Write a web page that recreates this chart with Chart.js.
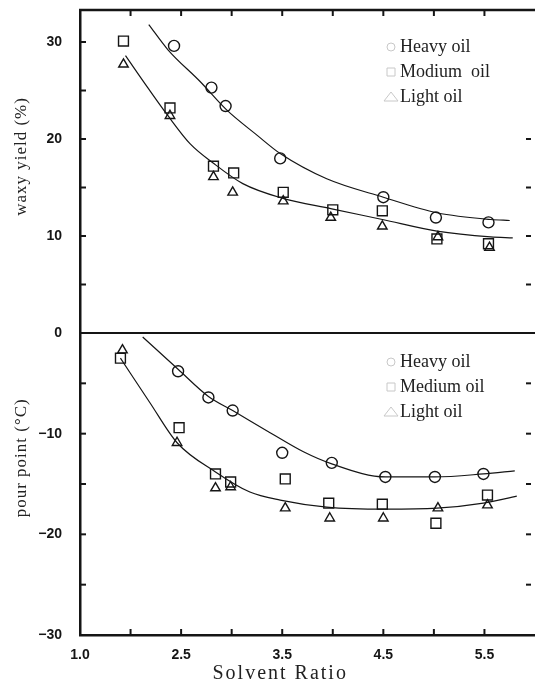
<!DOCTYPE html>
<html>
<head>
<meta charset="utf-8">
<title>Solvent ratio: waxy yield and pour point</title>
<script src="https://cdn.jsdelivr.net/npm/chart.js@4.4.1/dist/chart.umd.min.js"></script>
<style>
  html, body { margin: 0; padding: 0; background: #fff; }
  canvas { display: block; }
</style>
</head>
<body>
<canvas id="solventChart" width="535" height="681"></canvas>
<script>
// ---- upper panel: waxy yield (%) ----
const heavyYieldX  = [2.43, 2.80, 2.94, 3.48, 4.50, 5.02, 5.54];
const heavyYield   = [29.6, 25.3, 23.4, 18.0, 14.0, 11.9, 11.4];
const mediumYieldX = [1.93, 2.39, 2.82, 3.02, 3.51, 4.00, 4.49, 5.03, 5.54];
const mediumYield  = [30.1, 23.2, 17.2, 16.5, 14.5, 12.7, 12.6, 9.7, 9.2];
const lightYieldX  = [1.93, 2.39, 2.82, 3.01, 3.51, 3.98, 4.49, 5.04, 5.55];
const lightYield   = [27.7, 22.4, 16.1, 14.5, 13.6, 11.9, 11.0, 9.9, 8.8];
// fitted curves as drawn in the figure
const heavyYieldFitX = [2.18, 2.37, 2.69, 2.95, 3.25, 3.48, 3.94, 4.50, 5.03, 5.56, 5.75];
const heavyYieldFit  = [31.8, 29.2, 25.9, 23.0, 20.4, 18.5, 15.9, 14.0, 12.4, 11.7, 11.6];
const lightYieldFitX = [1.95, 2.17, 2.37, 2.59, 2.82, 3.11, 3.50, 3.99, 4.49, 5.03, 5.56, 5.78];
const lightYieldFit  = [28.6, 25.3, 22.4, 19.5, 17.5, 15.4, 13.9, 12.8, 11.7, 10.5, 9.9, 9.8];

// ---- lower panel: pour point (°C) ----
const heavyPourX  = [2.47, 2.77, 3.01, 3.50, 3.99, 4.52, 5.01, 5.49];
const heavyPour   = [-3.8, -6.4, -7.7, -11.9, -12.9, -14.3, -14.3, -14.0];
const mediumPourX = [1.90, 2.48, 2.84, 2.99, 3.53, 3.96, 4.49, 5.02, 5.53];
const mediumPour  = [-2.5, -9.4, -14.0, -14.8, -14.5, -16.9, -17.0, -18.9, -16.1];
const lightPourX  = [1.92, 2.46, 2.84, 2.99, 3.53, 3.97, 4.50, 5.04, 5.53];
const lightPour   = [-1.7, -10.9, -15.4, -15.3, -17.4, -18.4, -18.4, -17.4, -17.1];
const heavyPourFitX = [2.12, 2.47, 2.77, 3.01, 3.38, 3.71, 3.99, 4.52, 5.01, 5.49, 5.80];
const heavyPourFit  = [-0.4, -3.6, -6.3, -7.7, -9.9, -11.8, -13.0, -14.3, -14.3, -14.0, -13.7];
const lightPourFitX = [1.90, 2.19, 2.46, 2.84, 3.18, 3.48, 3.94, 4.52, 5.03, 5.49, 5.82];
const lightPourFit  = [-2.5, -6.9, -10.9, -13.8, -15.8, -16.6, -17.3, -17.5, -17.4, -16.9, -16.2];

// ---- axes ----
const xTickValues = [1.5, 2.5, 3.5, 4.5, 5.5];
const xTickLabels = ['1.0', '2.5', '3.5', '4.5', '5.5'];   // printed as in the original
const xMinorTicks = [2.0, 2.5, 3.0, 3.5, 4.0, 4.5, 5.0, 5.5];
const yieldTickValues = [10, 20, 30];
const yieldMinorTicks = [5, 10, 15, 20, 25, 30];
const yieldRightTicks = [5, 10, 15, 20];
const pourTickValues = [-30, -20, -10, 0];
const pourTickLabels = ['\u221230', '\u221220', '\u221210', '0'];
const pourMinorTicks = [-25, -20, -15, -10, -5];
const pourRightTicks = [-25, -20, -15, -10, -5];

const yieldLegend = ['Heavy oil', 'Modium  oil', 'Light oil'];
const pourLegend  = ['Heavy oil', 'Medium oil', 'Light oil'];
const markerStyles = ['circle', 'rect', 'triangle'];

const ink = '#151515';
const toPoints = (xs, ys) => xs.map((x, i) => ({ x, y: ys[i] }));

function curve(label, xs, ys, axis) {
  return {
    label, data: toPoints(xs, ys), yAxisID: axis,
    showLine: true, pointRadius: 0, borderColor: ink, borderWidth: 1.2,
    cubicInterpolationMode: 'monotone', fill: false
  };
}
function markers(label, xs, ys, axis, style, r) {
  return {
    label, data: toPoints(xs, ys), yAxisID: axis, showLine: false,
    pointStyle: style, pointRadius: r, pointBorderWidth: 1.4,
    pointBorderColor: ink, pointBackgroundColor: 'rgba(0,0,0,0)'
  };
}

// no extra room for edge labels: the frame fills the picture
function noEdgePadding(scale) {
  scale.paddingTop = 0; scale.paddingBottom = 0;
  scale.paddingLeft = 0; scale.paddingRight = 0;
}

// frame, inward tick marks, legends and axis titles
const panelDecor = {
  id: 'panelDecor',
  afterDraw(chart) {
    const { ctx, chartArea: area, scales } = chart;
    const xs = scales.x, top = scales.yTop, bot = scales.yBot;
    const seg = (x1, y1, x2, y2) => { ctx.beginPath(); ctx.moveTo(x1, y1); ctx.lineTo(x2, y2); ctx.stroke(); };
    ctx.save();
    ctx.strokeStyle = ink;
    ctx.lineWidth = 2.5;
    seg(area.left - 1, area.top, area.right, area.top);
    ctx.lineWidth = 2;
    seg(area.left, top.bottom, area.right, top.bottom);

    // ticks point into the plot
    xMinorTicks.forEach(v => {
      const px = xs.getPixelForValue(v);
      seg(px, area.bottom, px, area.bottom - 6);
      seg(px, area.top, px, area.top + 6);
    });
    yieldMinorTicks.forEach(v => { const py = top.getPixelForValue(v); seg(area.left, py, area.left + 6, py); });
    pourMinorTicks.forEach(v => { const py = bot.getPixelForValue(v); seg(area.left, py, area.left + 6, py); });
    yieldRightTicks.forEach(v => { const py = top.getPixelForValue(v); seg(area.right - 9, py, area.right - 4, py); });
    pourRightTicks.forEach(v => { const py = bot.getPixelForValue(v); seg(area.right - 9, py, area.right - 4, py); });

    // legends inside each panel (the symbols are faint in the scan)
    ctx.font = '18px "Liberation Serif", serif';
    ctx.fillStyle = '#222';
    ctx.textBaseline = 'middle';
    ctx.textAlign = 'left';
    const drawLegend = (labels, y0) => labels.forEach((txt, i) => {
      const cy = y0 + i * 25;
      ctx.save();
      ctx.strokeStyle = '#c8c8c8';
      ctx.lineWidth = 1;
      ctx.beginPath();
      if (markerStyles[i] === 'circle') ctx.arc(391, cy, 4, 0, Math.PI * 2);
      else if (markerStyles[i] === 'rect') ctx.rect(387, cy - 4, 8, 8);
      else { ctx.moveTo(384, cy + 4); ctx.lineTo(391, cy - 5); ctx.lineTo(398, cy + 4); ctx.closePath(); }
      ctx.stroke();
      ctx.restore();
      ctx.fillText(txt, 400, cy);
    });
    drawLegend(yieldLegend, top.top + 37);
    drawLegend(pourLegend, bot.top + 29);

    // axis titles
    ctx.font = '17px "Liberation Serif", serif';
    ctx.letterSpacing = '1px';
    ctx.textAlign = 'center';
    [[top, 18.2, 'waxy yield (%)'], [bot, -12.4, 'pour point (\u00B0C)']].forEach(([sc, v, txt]) => {
      ctx.save();
      ctx.translate(22, sc.getPixelForValue(v));
      ctx.rotate(-Math.PI / 2);
      ctx.fillText(txt, 0, 0);
      ctx.restore();
    });
    ctx.font = '20px "Liberation Serif", serif';
    ctx.letterSpacing = '2px';
    ctx.textBaseline = 'alphabetic';
    ctx.fillText('Solvent Ratio', xs.getPixelForValue(3.48), 679);
    ctx.restore();
  }
};

const tickFont = { family: '"Liberation Sans", Arial, sans-serif', weight: 'bold', size: 14 };

new Chart(document.getElementById('solventChart'), {
  type: 'scatter',
  data: {
    datasets: [
      curve('Heavy oil fit', heavyYieldFitX, heavyYieldFit, 'yTop'),
      curve('Medium/Light oil fit', lightYieldFitX, lightYieldFit, 'yTop'),
      markers('Heavy oil', heavyYieldX, heavyYield, 'yTop', 'circle', 5.5),
      markers('Modium oil', mediumYieldX, mediumYield, 'yTop', 'rect', 7),
      markers('Light oil', lightYieldX, lightYield, 'yTop', 'triangle', 5.5),
      curve('Heavy oil fit', heavyPourFitX, heavyPourFit, 'yBot'),
      curve('Medium/Light oil fit', lightPourFitX, lightPourFit, 'yBot'),
      markers('Heavy oil', heavyPourX, heavyPour, 'yBot', 'circle', 5.5),
      markers('Medium oil', mediumPourX, mediumPour, 'yBot', 'rect', 7),
      markers('Light oil', lightPourX, lightPour, 'yBot', 'triangle', 5.5)
    ]
  },
  options: {
    responsive: false,
    animation: false,
    // autoPadding would add room for the marker radius on every side
    layout: { autoPadding: false, padding: { top: 10, right: 0, bottom: 0, left: 0 } },
    plugins: { legend: { display: false }, tooltip: { enabled: false } },
    scales: {
      x: {
        type: 'linear', position: 'bottom', min: 1.5, max: 6.0,
        grid: { display: false },
        border: { display: true, width: 2.5, color: ink },
        afterBuildTicks: (scale) => { scale.ticks = xTickValues.map(v => ({ value: v })); },
        afterFit: (scale) => { scale.height = 46; noEdgePadding(scale); },
        ticks: {
          autoSkip: false, maxRotation: 0, padding: 4, color: ink, font: tickFont,
          callback: (value, index) => xTickLabels[index]
        }
      },
      // listed before yTop so that yTop lands on top of the stack
      yBot: {
        type: 'linear', position: 'left', stack: 'panels', stackWeight: 302,
        min: -30, max: 0,
        grid: { display: false },
        border: { display: true, width: 2.5, color: ink },
        afterBuildTicks: (scale) => { scale.ticks = pourTickValues.map(v => ({ value: v })); },
        afterFit: (scale) => { scale.width = 80; noEdgePadding(scale); },
        ticks: { padding: 10, color: ink, font: tickFont, callback: (value, index) => pourTickLabels[index] }
      },
      yTop: {
        type: 'linear', position: 'left', stack: 'panels', stackWeight: 323,
        min: 0, max: 33.3,
        grid: { display: false },
        border: { display: true, width: 2.5, color: ink },
        afterBuildTicks: (scale) => { scale.ticks = yieldTickValues.map(v => ({ value: v })); },
        afterFit: (scale) => { scale.width = 80; noEdgePadding(scale); },
        ticks: { padding: 10, color: ink, font: tickFont }
      }
    }
  },
  plugins: [panelDecor]
});
</script>
</body>
</html>
